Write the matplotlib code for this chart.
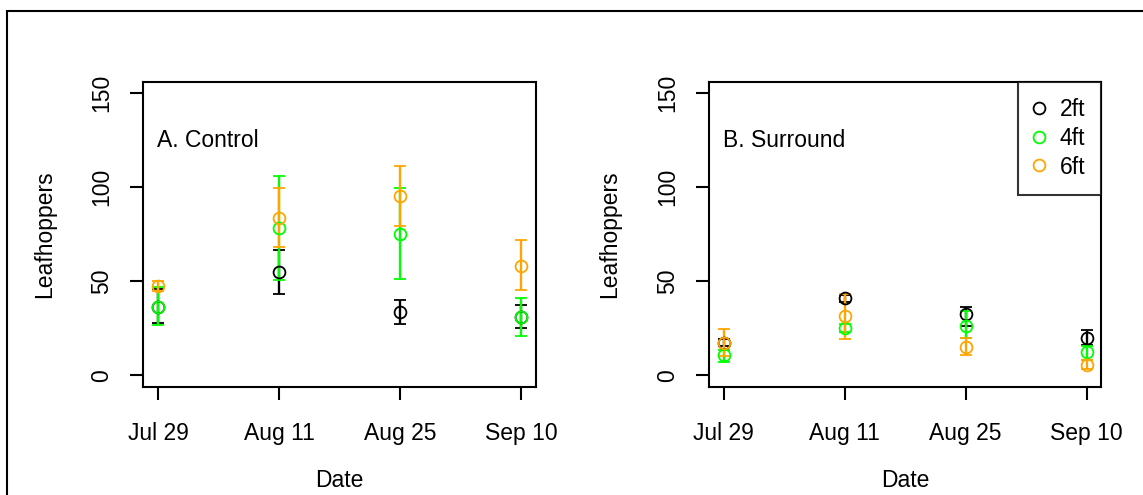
import matplotlib
matplotlib.use('Agg')
import matplotlib.pyplot as plt
from matplotlib.patches import Rectangle

plt.rcParams['font.family'] = ['Liberation Sans', 'DejaVu Sans']

#sampling dates (plotted at equal spacing)
dates = ['Jul 29', 'Aug 11', 'Aug 25', 'Sep 10']
heights = ['2ft', '4ft', '6ft']
colors = ['black', '#00FF00', '#FFA500']

#A. Control - means and error bar ends
ctrl_2ft    = [36.5, 54.8, 33.8, 31.0]
ctrl_2ft_lo = [28.0, 43.3, 27.6, 25.3]
ctrl_2ft_hi = [46.0, 66.9, 40.3, 37.3]
ctrl_4ft    = [36.6, 78.4, 75.4, 31.1]
ctrl_4ft_lo = [26.7, 50.8, 51.5, 21.1]
ctrl_4ft_hi = [47.0, 106.1, 99.4, 40.9]
ctrl_6ft    = [47.4, 83.7, 95.2, 58.4]
ctrl_6ft_lo = [44.7, 68.1, 79.3, 45.3]
ctrl_6ft_hi = [50.0, 99.6, 111.1, 72.0]

#B. Surround - means and error bar ends
surr_2ft    = [17.3, 41.0, 32.4, 20.0]
surr_2ft_lo = [15.5, 38.9, 26.5, 16.4]
surr_2ft_hi = [19.1, 43.0, 36.4, 24.4]
surr_4ft    = [10.8, 25.0, 26.5, 12.4]
surr_4ft_lo = [7.1, 23.0, 20.0, 8.1]
surr_4ft_hi = [13.4, 27.6, 34.1, 15.9]
surr_6ft    = [17.0, 31.8, 15.2, 5.8]
surr_6ft_lo = [10.2, 19.5, 10.8, 3.5]
surr_6ft_hi = [24.8, 43.5, 20.0, 8.1]

panels = [
    ('A. Control', [(ctrl_2ft, ctrl_2ft_lo, ctrl_2ft_hi),
                    (ctrl_4ft, ctrl_4ft_lo, ctrl_4ft_hi),
                    (ctrl_6ft, ctrl_6ft_lo, ctrl_6ft_hi)]),
    ('B. Surround', [(surr_2ft, surr_2ft_lo, surr_2ft_hi),
                     (surr_4ft, surr_4ft_lo, surr_4ft_hi),
                     (surr_6ft, surr_6ft_lo, surr_6ft_hi)]),
]

fs = 16.5
fig = plt.figure(figsize=(11.43, 4.95), dpi=100)
ax_left = [143.5/1143, 709.2/1143]   #axes left edges in pixels

x = [i+1 for i in range(len(dates))]
for k, (title, series) in enumerate(panels):
    ax = fig.add_axes([ax_left[k], 1-386.7/495, 392/1143, 304.7/495])
    for (m, lo, hi), c, lab in zip(series, colors, heights):
        yerr = [[mm-l for mm, l in zip(m, lo)], [h-mm for mm, h in zip(m, hi)]]
        ax.errorbar(x, m, yerr=yerr, fmt='o', mfc='none', mec=c, ecolor=c,
                    ms=8.5, mew=1.3, elinewidth=1.7, capsize=4.2, capthick=1.7,
                    label=lab)
    ax.set_xlim(0.88, 4.12)
    ax.set_ylim(-6, 156)
    ax.set_xticks(x)
    ax.set_xticklabels(dates, fontsize=fs)
    ax.set_yticks([0, 50, 100, 150])
    ax.set_yticklabels(['0', '50', '100', '150'], fontsize=fs, rotation=90, va='center')
    ax.tick_params(length=9.7, width=1.5, direction='out')
    ax.tick_params(axis='x', pad=15.5)
    ax.tick_params(axis='y', pad=12)
    for s in ax.spines.values():
        s.set_linewidth(1.5)
    ax.text(0.99, 125, title, fontsize=fs, ha='left', va='center')
    ax.set_xlabel('Date', fontsize=fs, labelpad=17.5)
    ax.set_ylabel('Leafhoppers', fontsize=fs, labelpad=25)
    if k == 1:
        h, l = ax.get_legend_handles_labels()
        h = [hh[0] for hh in h]   #only the circle markers
        leg = ax.legend(h, l, loc='upper right', fontsize=fs, frameon=True,
                        fancybox=False, edgecolor='black', borderaxespad=0,
                        handlelength=0.4, handletextpad=0.7, borderpad=0.7,
                        labelspacing=0.25)
        leg.get_frame().set_linewidth(1.5)

#outer frame (only left and top edges are visible)
fig.add_artist(Rectangle((7/1143, -0.1), 1.2, 1-11/495+0.1, transform=fig.transFigure,
                         fill=False, edgecolor='black', linewidth=1.5))

plt.savefig('out.png', dpi=100)
